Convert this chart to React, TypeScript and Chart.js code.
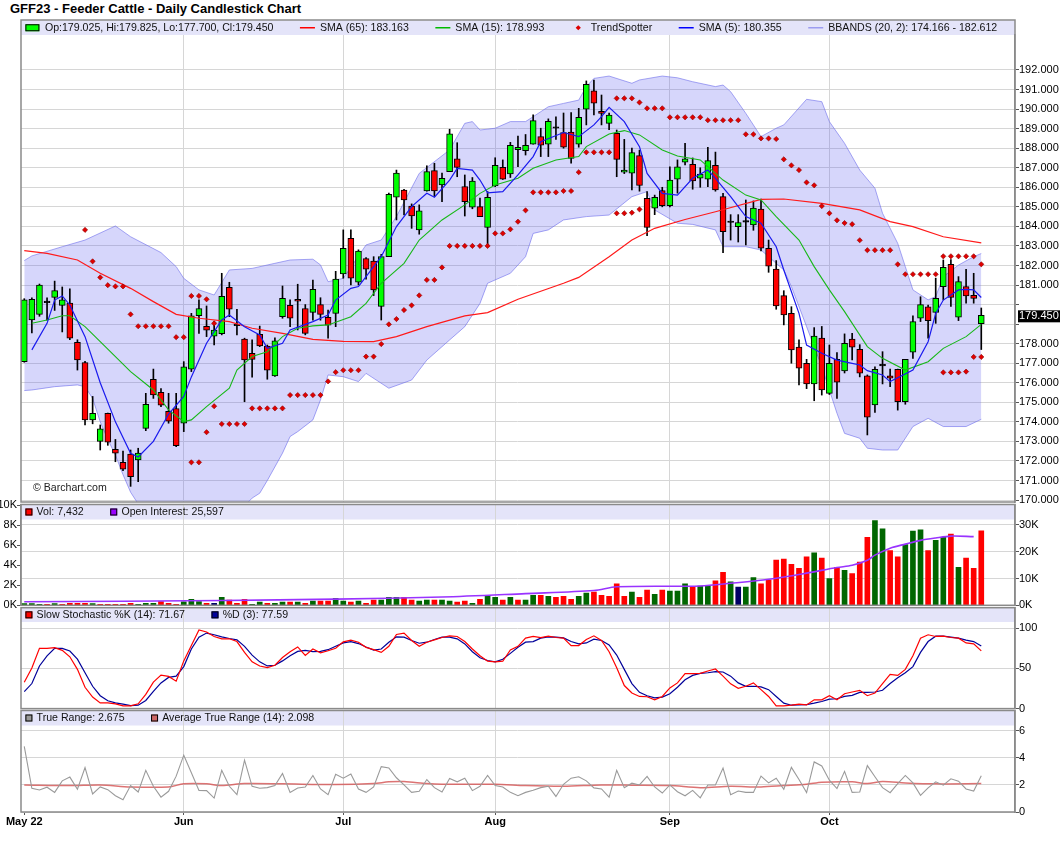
import React, { useEffect, useRef } from "react";
import Chart from "chart.js/auto";

const FONT = '"Liberation Sans", Arial, Helvetica, sans-serif';
const GRID = "#d6d6d6";
const FRAME = "#8a8a8a";
const BAND = "#e4e4f9";
const UP = "#00ff00";
const DOWN = "#ff0000";

// x = trading-day index, 0 = first session of May 2022
const monthTicks = [0, 21, 42, 62, 85, 106];
const monthLabels = ["May 22", "Jun", "Jul", "Aug", "Sep", "Oct"];

const priceTicks = [170, 171, 172, 173, 174, 175, 176, 177, 178, 179, 180, 181, 182, 183, 184, 185, 186, 187, 188, 189, 190, 191, 192];
const hiddenPriceLabels = [179, 180];

const opens = [
  177.08, 179.21, 179.5, 180.1, 180.37, 179.96, 180.07, 178.07, 177.03, 174.1,
  173.0, 174.44, 172.6, 171.93, 172.35, 172.05, 173.67, 176.18, 175.51, 174.54,
  174.68, 173.93, 176.7, 179.43, 178.89, 178.38, 178.51, 180.88, 178.92, 178.24,
  177.5, 178.48, 177.88, 176.35, 179.38, 179.96, 180.27, 179.8, 179.6, 180.0,
  179.35, 179.55, 181.57, 183.39, 181.14, 182.35, 182.22, 179.9, 182.45, 185.49,
  185.86, 185.04, 183.82, 185.81, 186.85, 186.12, 186.8, 187.45, 186.04, 184.98,
  185.01, 183.95, 186.07, 187.02, 186.68, 187.92, 187.87, 188.2, 188.59, 188.2,
  189.02, 188.8, 188.82, 188.2, 189.99, 190.94, 189.89, 189.27, 188.76, 186.77,
  186.72, 187.62, 185.44, 184.93, 185.83, 185.06, 186.42, 187.28, 187.18, 186.46,
  186.42, 187.12, 185.52, 184.2, 183.98, 184.22, 184.07, 184.88, 182.88, 181.81,
  180.46, 179.55, 177.82, 177.0, 175.94, 178.28, 175.46, 177.2, 176.6, 178.23,
  177.71, 176.35, 174.87, 176.86, 176.35, 176.69, 175.03, 177.56, 179.3, 179.89,
  179.6, 180.92, 182.06, 179.35, 180.92, 180.47, 179.025,
];
const highs = [
  180.3, 180.35, 181.05, 180.35, 181.2, 180.9, 180.8, 178.2, 177.1, 175.3,
  173.84, 174.45, 173.1, 172.5, 172.56, 172.65, 175.46, 176.7, 175.7, 175.46,
  175.46, 177.08, 179.55, 180.24, 179.93, 179.13, 181.6, 181.14, 179.76, 178.28,
  178.2, 178.9, 177.93, 178.3, 180.95, 180.24, 181.04, 180.0, 181.25, 180.35,
  179.72, 181.7, 183.82, 183.82, 182.8, 182.4, 182.45, 182.57, 185.7, 186.88,
  185.9, 185.15, 185.1, 187.1, 187.23, 186.72, 188.97, 188.28, 186.63, 186.5,
  185.45, 185.78, 187.51, 187.4, 188.3, 188.62, 188.7, 189.7, 189.02, 189.5,
  189.61, 189.8, 189.82, 190.04, 191.44, 191.49, 190.72, 189.8, 188.93, 188.45,
  188.0, 187.9, 185.78, 185.6, 186.0, 187.05, 187.4, 188.25, 187.5, 187.0,
  188.05, 187.8, 185.69, 184.6, 184.6, 185.35, 185.3, 185.4, 183.3, 182.25,
  180.71, 179.89, 178.19, 177.2, 178.82, 178.88, 177.93, 177.54, 178.5, 178.53,
  177.95, 176.4, 176.82, 177.59, 176.7, 176.7, 177.2, 179.42, 180.4, 179.98,
  181.35, 182.28, 182.3, 181.43, 181.8, 181.6, 179.825,
];
const lows = [
  177.05, 178.55, 179.4, 179.2, 179.7, 178.6, 178.2, 176.65, 173.84, 173.9,
  172.56, 172.8, 171.96, 171.5, 170.7, 170.94, 173.55, 175.2, 174.78, 173.93,
  172.73, 173.5, 176.57, 178.53, 178.36, 177.93, 178.45, 179.38, 178.45, 175.03,
  176.28, 177.85, 176.18, 176.33, 179.3, 178.87, 178.7, 178.45, 179.2, 179.2,
  178.28, 178.87, 181.35, 181.0, 181.0, 181.3, 180.46, 179.21, 182.45, 184.33,
  184.58, 183.9, 183.6, 185.8, 185.53, 185.27, 186.8, 186.54, 184.53, 184.9,
  184.5, 183.05, 186.03, 186.4, 186.5, 187.05, 187.65, 188.2, 187.57, 187.57,
  188.45, 188.0, 187.23, 188.05, 189.19, 189.7, 189.19, 188.95, 186.54, 186.7,
  185.86, 185.8, 183.52, 184.6, 185.0, 185.0, 185.7, 187.14, 185.9, 186.0,
  186.03, 185.8, 182.65, 183.3, 183.2, 183.05, 183.8, 182.75, 181.65, 179.76,
  178.96, 177.0, 175.89, 175.7, 175.08, 175.37, 175.4, 175.2, 176.5, 177.17,
  176.3, 173.33, 174.48, 175.94, 175.8, 174.6, 174.9, 177.25, 179.13, 178.28,
  179.04, 180.24, 179.9, 179.18, 180.07, 180.07, 177.7,
];
const closes = [
  180.24, 180.27, 181.0, 180.1, 180.71, 180.24, 178.28, 177.17, 174.1, 174.44,
  173.64, 172.96, 172.4, 171.58, 171.2, 172.4, 174.9, 175.38, 174.85, 174.03,
  172.78, 176.82, 179.42, 179.8, 178.69, 178.69, 180.42, 179.76, 178.92, 177.17,
  177.2, 177.88, 176.65, 178.14, 180.32, 179.3, 180.17, 178.53, 180.78, 179.5,
  178.94, 181.3, 182.88, 181.35, 182.73, 181.81, 180.75, 182.45, 185.64, 186.72,
  185.35, 184.53, 184.8, 186.8, 185.81, 186.46, 188.73, 187.02, 185.27, 186.32,
  184.5, 185.49, 187.12, 186.41, 188.15, 188.05, 188.15, 189.41, 188.15, 189.38,
  189.02, 188.05, 187.47, 189.58, 191.27, 190.3, 189.78, 189.69, 187.43, 186.88,
  187.77, 186.09, 183.95, 185.49, 185.06, 186.37, 187.05, 187.45, 186.32, 186.67,
  187.36, 185.86, 183.73, 184.2, 184.2, 184.22, 184.93, 182.88, 181.97, 179.93,
  179.47, 177.68, 176.74, 175.94, 178.39, 175.63, 177.0, 176.03, 178.02, 177.82,
  176.49, 174.24, 176.69, 176.86, 176.23, 175.03, 177.2, 179.13, 180.0, 179.18,
  180.32, 181.91, 180.37, 181.17, 180.44, 180.32, 179.45,
];

// overlays: [day index, value]
const sma65: [number, number][] = [
  [0, 182.76], [3, 182.62], [7, 182.28], [10, 181.6], [14, 180.83], [17, 180.15], [20, 179.5], [23, 179.3],
  [27, 179.13], [30, 178.79], [34, 178.53], [38, 178.22], [42, 178.12], [46, 178.1], [49, 178.36], [53, 178.87],
  [58, 179.42], [61, 179.59], [65, 180.27], [71, 181.09], [73, 181.39], [77, 182.45], [80, 183.3], [83, 183.9],
  [87, 184.35], [91, 184.75], [97, 185.38], [100, 185.4], [105, 185.18], [110, 184.84], [114, 184.24],
  [117, 183.99], [121, 183.47], [126, 183.16],
];
const sma15: [number, number][] = [
  [1, 179.04], [3, 179.21], [5, 179.43], [6, 179.43], [8, 178.87], [10, 178.1], [12, 177.34], [14, 176.57],
  [17, 175.63], [19, 174.61], [21, 174.01], [22, 174.1], [24, 174.78], [27, 175.72], [28, 176.65], [30, 177.34],
  [32, 177.59], [34, 178.36], [36, 178.79], [38, 178.91], [40, 178.96], [43, 179.38], [45, 180.06], [47, 181.09],
  [50, 182.11], [52, 183.3], [55, 184.33], [58, 185.1], [60, 185.69], [62, 186.12], [65, 186.46], [67, 186.97],
  [70, 187.4], [73, 187.57], [74, 188.08], [77, 188.73], [79, 188.9], [81, 188.68], [84, 187.91], [86, 187.6],
  [89, 187.4], [92, 186.37], [95, 185.6], [97, 185.35], [99, 184.5], [102, 183.3], [104, 181.94], [106, 180.75],
  [108, 179.64], [111, 177.85], [113, 177.25], [116, 176.65], [119, 177.08], [121, 177.76], [124, 178.36],
  [126, 178.99],
];
const sma5: [number, number][] = [
  [1, 177.68], [3, 179.04], [4, 180.23], [5, 180.44], [6, 179.98], [8, 178.36], [10, 176.0], [12, 174.0],
  [14, 172.39], [15, 172.2], [17, 173.0], [19, 174.4], [21, 175.3], [22, 176.3], [24, 178.02], [26, 179.21],
  [27, 179.47], [29, 178.87], [31, 178.44], [32, 177.76], [34, 178.02], [35, 178.7], [38, 179.13], [40, 179.47],
  [41, 180.23], [43, 180.83], [44, 180.92], [45, 181.43], [47, 182.45], [49, 183.99], [51, 185.01], [53, 185.69],
  [54, 185.49], [56, 186.37], [57, 186.97], [59, 186.88], [60, 186.37], [61, 185.72], [63, 185.78], [65, 186.63],
  [67, 187.57], [68, 188.33], [71, 188.8], [73, 188.59], [75, 189.19], [76, 189.61], [77, 190.09], [79, 189.36],
  [81, 188.08], [82, 186.71], [84, 185.69], [86, 185.6], [88, 186.46], [90, 186.88], [91, 186.46], [93, 185.52],
  [95, 184.5], [97, 184.16], [99, 182.96], [100, 181.77], [102, 179.55], [103, 177.93], [105, 177.51],
  [107, 177.16], [109, 176.99], [110, 176.91], [111, 176.62], [113, 176.4], [114, 176.06], [117, 176.65],
  [119, 178.1], [120, 179.55], [121, 180.23], [123, 180.75], [124, 180.78], [125, 180.75], [126, 180.36],
];
const bbUpper: [number, number][] = [
  [0, 182.25], [1, 182.49], [5, 182.96], [8, 183.3], [12, 184.02], [14, 183.47], [18, 182.66], [20, 181.94],
  [21, 181.34], [23, 180.75], [25, 180.49], [27, 181.77], [30, 181.85], [33, 182.11], [35, 182.28], [38, 182.32],
  [39, 182.03], [40, 181.17], [42, 181.34], [45, 183.05], [47, 183.3], [49, 184.5], [52, 186.71], [56, 187.91],
  [58, 189.27], [59, 189.36], [60, 188.93], [62, 189.02], [64, 189.36], [66, 189.36], [67, 189.61], [69, 190.12],
  [71, 190.29], [73, 190.46], [74, 191.15], [75, 191.57], [77, 191.69], [80, 191.32], [81, 191.49], [84, 191.69],
  [86, 191.6], [88, 191.4], [91, 191.15], [92, 191.23], [93, 190.89], [95, 189.78], [97, 188.59], [99, 189.02],
  [100, 189.19], [103, 190.5], [105, 190.38], [106, 189.36], [108, 188.25], [110, 186.88], [112, 185.95],
  [113, 184.67], [115, 183.13], [116, 181.94], [117, 180.75], [119, 180.24], [120, 180.41], [121, 181.43],
  [123, 182.02], [125, 182.45], [126, 182.61],
];
const bbLower: [number, number][] = [
  [0, 175.6], [1, 175.63], [4, 175.8], [7, 175.89], [8, 175.8], [9, 175.2], [10, 174.0], [11, 173.1],
  [12, 172.3], [13, 171.3], [14, 170.4], [15, 169.8], [17, 169.1], [20, 168.6], [23, 168.6], [26, 168.9],
  [28, 169.3], [29, 169.7], [30, 170.1], [31, 170.35], [32, 171.0], [34, 172.4], [35, 173.25], [36, 173.5],
  [38, 174.1], [39, 175.12], [40, 176.4], [42, 176.31], [44, 176.06], [45, 176.48], [48, 175.72], [51, 176.14],
  [53, 177.16], [56, 178.19], [58, 178.87], [60, 180.06], [61, 181.09], [64, 181.6], [66, 182.45], [67, 183.64],
  [69, 183.82], [71, 184.33], [74, 184.5], [77, 184.58], [80, 185.52], [82, 185.78], [83, 184.84], [86, 184.16],
  [88, 184.1], [91, 183.82], [92, 182.96], [95, 182.96], [97, 182.79], [100, 181.77], [101, 180.92],
  [103, 178.87], [105, 176.82], [107, 174.44], [108, 173.41], [110, 173.16], [111, 172.65], [113, 172.56],
  [115, 172.56], [117, 173.76], [119, 174.18], [121, 173.76], [124, 173.76], [126, 174.13],
];
const trendSpotter: [number, number][] = [
  [8, 183.82], [9, 182.21], [10, 181.39], [11, 180.99], [12, 180.93], [13, 180.93], [14, 179.5], [15, 178.89],
  [16, 178.89], [17, 178.89], [18, 178.89], [19, 178.89], [20, 178.33], [21, 178.33], [22, 180.44], [23, 180.44],
  [24, 180.27], [25, 179.04],
  [22, 171.93], [23, 171.93], [24, 173.47], [25, 174.8], [26, 173.89], [27, 173.89], [28, 173.89], [29, 173.89],
  [30, 174.69], [31, 174.69], [32, 174.69], [33, 174.69], [34, 174.69], [35, 175.37], [36, 175.37], [37, 175.37],
  [38, 175.37], [39, 175.37], [40, 176.07], [41, 176.54], [42, 176.64], [43, 176.64], [44, 176.64], [45, 177.34],
  [46, 177.34], [47, 177.98], [48, 178.99], [49, 179.26], [50, 179.72], [51, 179.96], [52, 180.47], [53, 181.26],
  [54, 181.26], [55, 181.9], [56, 183.0], [57, 183.0], [58, 183.0], [59, 183.0], [60, 183.0], [61, 183.0],
  [62, 183.64], [63, 183.64], [64, 183.85], [65, 184.24], [66, 184.82], [67, 185.74], [68, 185.74], [69, 185.74],
  [70, 185.74], [71, 185.81], [72, 185.81], [73, 186.77], [74, 187.79], [75, 187.79], [76, 187.79], [77, 187.79],
  [78, 184.67], [79, 184.67], [80, 184.7], [81, 184.87],
  [78, 190.55], [79, 190.55], [80, 190.55], [81, 190.34], [82, 190.04], [83, 190.04], [84, 190.04], [85, 189.58],
  [86, 189.58], [87, 189.58], [88, 189.58], [89, 189.58], [90, 189.43], [91, 189.43], [92, 189.43], [93, 189.43],
  [94, 189.43], [95, 188.71], [96, 188.71], [97, 188.5], [98, 188.5], [99, 188.47], [100, 187.43], [101, 187.12],
  [102, 186.88], [103, 186.25], [104, 186.1], [105, 185.04], [106, 184.67], [107, 184.31], [108, 184.17],
  [109, 184.11], [110, 183.29], [111, 182.78], [112, 182.78], [113, 182.78], [114, 182.78], [115, 182.06],
  [116, 181.55], [117, 181.55], [118, 181.55], [119, 181.55], [120, 181.55], [121, 182.47], [122, 182.47],
  [123, 182.47], [124, 182.47], [125, 182.47], [126, 182.06],
  [121, 176.53], [122, 176.53], [123, 176.53], [124, 176.57], [125, 177.32], [126, 177.32],
];

const volumes = [
  170, 170, 100, 100, 170, 100, 200, 200, 200, 170,
  100, 100, 100, 100, 200, 100, 200, 200, 380, 200,
  100, 340, 590, 380, 200, 200, 800, 520, 200, 590,
  100, 310, 200, 200, 310, 310, 310, 200, 410, 410,
  410, 690, 410, 310, 410, 200, 520, 520, 790, 790,
  790, 520, 410, 520, 520, 520, 410, 310, 410, 200,
  590, 1000, 790, 520, 790, 520, 520, 1000, 1000, 900,
  800, 900, 590, 900, 1210, 1310, 1000, 900, 2140, 900,
  1310, 800, 1520, 1100, 1520, 1410, 1410, 2140, 1830, 1930,
  1930, 2450, 3280, 2340, 1830, 1830, 2760, 2140, 2550, 4520,
  4620, 4100, 3690, 4830, 5240, 4720, 2660, 3790, 3480, 3170,
  4310, 6790, 8450, 7620, 5450, 4830, 6070, 7410, 7520, 5450,
  6480, 6790, 7100, 3790, 4720, 3690, 7432,
];
const openInterest: [number, number][] = [
  [0, 1300], [26, 1800], [41, 2300], [55, 3080], [66, 4360], [75, 5500], [78, 6900], [89, 7200], [93, 8200],
  [98, 9700], [103, 12000], [107, 14100], [109, 14900], [111, 16800], [112, 18700], [114, 21300], [116, 22800],
  [118, 24200], [120, 25100], [122, 25800], [125, 25600],
];
const volLeftTicks = [0, 2000, 4000, 6000, 8000, 10000];
const volLeftLabels = ["0K", "2K", "4K", "6K", "8K", "10K"];
const oiTicks = [0, 10000, 20000, 30000];
const oiLabels = ["0K", "10K", "20K", "30K"];

const stochK = [
  32.8, 50.4, 74.8, 74.8, 75.6, 72.3, 64.3, 48.7, 26.5, 14.3,
  7.1, 7.1, 5.9, 3.4, 3.4, 5.9, 17.6, 32.8, 41.6, 39.9,
  34, 59.2, 78.2, 97.5, 95, 89.5, 86.6, 86.6, 83.2, 69.7,
  58, 52.9, 50.8, 53.8, 63.4, 70.6, 76.5, 66, 73.9, 69.3,
  71.8, 74.8, 82.8, 84.9, 82.4, 76, 73.1, 69.7, 77.3, 92,
  93.7, 84.5, 77.3, 82.4, 85.3, 88.2, 90.3, 89.5, 83.2, 73.9,
  65.5, 58.8, 58, 58.8, 72.7, 77.3, 87.4, 89.5, 88.2, 89.9,
  88.2, 87.4, 78.2, 78.2, 85.7, 90.3, 84.5, 70.6, 50.8, 28.6,
  19.3, 15.1, 14.7, 10.9, 15.1, 25.6, 31.9, 43.3, 43.3, 43.7,
  46.6, 49.2, 40.3, 30.7, 25.2, 27.7, 31.9, 23.5, 15.1, 3.4,
  3.4, 4.2, 5.5, 4.6, 10.9, 10.9, 16, 10.9, 18.5, 20.6,
  22.7, 16, 19.3, 31.1, 42.4, 41.2, 48.7, 65.5, 87.4, 91.6,
  89.5, 89.9, 88.2, 87.4, 81.5, 80.3, 71.67,
];
const stochD = [
  21, 31.1, 52.9, 65.5, 74.8, 74.8, 71.4, 61.3, 44.5, 27.7,
  16, 9.7, 7.1, 5.5, 3.8, 4.2, 10.1, 21.4, 31.9, 38.7,
  40.3, 52.1, 73.9, 88.7, 93.7, 91.6, 89.1, 87, 85.3, 77.3,
  66.4, 58, 52.9, 53.8, 59.2, 65.5, 71, 72.3, 70.6, 71,
  73.1, 77.3, 81.5, 83.2, 80.7, 76.5, 72.7, 73.9, 82.4, 89.1,
  88.7, 84.5, 81.1, 82.4, 85.7, 88.7, 88.7, 86.6, 80.3, 70.6,
  63, 59.7, 58, 61.3, 68.5, 76, 82.4, 83.2, 87.4, 89.1,
  88.7, 87.8, 83.2, 80.3, 81.5, 86.1, 84.5, 79, 66.4, 48.7,
  31.1, 20.2, 16, 13.4, 14.3, 18.5, 26.5, 35.7, 41.2, 43.7,
  44.5, 45.8, 45.4, 40.3, 31.9, 27.7, 27.7, 26.9, 23.5, 15.1,
  6.7, 4.2, 4.6, 5, 6.7, 8.8, 11.8, 12.2, 15.1, 16.4,
  20.2, 20.2, 20.6, 22.7, 31.1, 38.2, 44.5, 52.1, 69.7, 83.2,
  89.9, 89.9, 88.7, 87.4, 84.9, 83.2, 77.59,
];
const stochTicks = [0, 50, 100];
const stochLabels = ["0", "50", "100"];

const trueRange = [
  4.85, 1.75, 1.63, 1.83, 1.45, 2.3, 2.58, 1.68, 3.28, 1.33,
  1.85, 1.65, 1.2, 0.9, 1.95, 1.48, 3.08, 1.9, 1.1, 1.53,
  2.65, 4.2, 2.9, 1.6, 1.58, 1.03, 3.08, 1.9, 1.28, 3.83,
  1.9, 1.75, 1.8, 1.95, 2.85, 1.45, 1.78, 1.85, 2.7, 1.7,
  1.28, 2.78, 2.5, 2.8, 1.7, 1.45, 1.85, 3.35, 3.25, 2.53,
  2.0, 1.45, 1.53, 2.4, 1.8, 1.48, 2.48, 2.23, 2.5, 1.58,
  1.9, 2.7, 1.95, 1.85, 1.45, 1.2, 1.45, 1.6, 1.8, 1.9,
  1.15, 2.05, 2.5, 2.6, 2.3, 1.78, 1.7, 1.1, 3.08, 1.8,
  2.13, 2.0, 2.63, 1.85, 1.4, 2.0, 1.5, 1.2, 1.6, 1.05,
  2.0, 2.0, 3.25, 1.28, 1.55, 1.45, 1.45, 2.65, 2.15, 2.5,
  1.68, 3.3, 2.4, 1.43, 3.7, 3.4, 2.35, 1.73, 3.0, 1.45,
  1.48, 3.43, 2.6, 1.8, 1.43, 2.1, 2.7, 2.15, 1.23, 1.78,
  2.23, 1.98, 2.45, 2.28, 1.7, 1.55, 2.675,
];
const avgTrueRange: [number, number][] = [
  [0, 2.0], [6, 1.95], [10, 2.0], [14, 1.85], [19, 1.85], [21, 2.08], [24, 2.08], [26, 1.95], [29, 2.1],
  [34, 2.08], [41, 2.03], [46, 2.1], [48, 2.23], [50, 2.25], [53, 2.1], [55, 2.05], [62, 2.05], [66, 1.95],
  [71, 1.9], [76, 2.0], [80, 1.98], [85, 1.95], [89, 1.8], [93, 1.9], [97, 1.85], [100, 1.95], [103, 2.05],
  [105, 2.2], [109, 2.23], [111, 2.1], [113, 2.25], [116, 2.15], [120, 2.08], [126, 2.098],
];
const trTicks = [0, 2, 4, 6];
const trLabels = ["0", "2", "4", "6"];

const last = closes.length - 1;
const legendValues = {
  sma65: "183.163",
  sma15: "178.993",
  sma5: "180.355",
  bb: "174.166 - 182.612",
  k: "71.67",
  d: "77.59",
  tr: "2.675",
  atr: "2.098",
  oi: "25,597",
};

// page layout (px)
const W = 1060;
const X_MIN = -0.43;
const X_MAX = 130.44;
const LEGEND_FONT = 10.6;
const ITEM_GAP = 26.5;
const MAIN = { top: 0, height: 514, areaTop: 35, areaBottom: 502, frameTop: 20, bandTop: 20.5, bandH: 14.5 };
const VOL = { top: 494, height: 124, areaTop: 504.5, areaBottom: 605.3, bandH: 15 };
const STO = { top: 598, height: 124, areaTop: 607.7, areaBottom: 708.6, bandH: 14.3 };
const TRP = { top: 700, height: 151, areaTop: 710.5, areaBottom: 812, bandH: 15 };

const pts = (arr: [number, number][]) => arr.map(([x, y]) => ({ x, y }));
const seq = (arr: number[]) => arr.map((y, x) => ({ x, y }));

const noPad = (s: any) => {
  s.paddingTop = 0;
  s.paddingBottom = 0;
  s.paddingLeft = 0;
  s.paddingRight = 0;
};

function xAxis(showLabels: boolean) {
  return {
    type: "linear",
    min: X_MIN,
    max: X_MAX,
    offset: false,
    afterBuildTicks: (s: any) => {
      s.ticks = monthTicks.map((v) => ({ value: v }));
    },
    afterFit: (s: any) => {
      s.height = showLabels ? 39 : 0;
      noPad(s);
    },
    grid: {
      offset: false,
      color: (c: any) => (c.tick && c.tick.value === monthTicks[0] ? "rgba(0,0,0,0)" : GRID),
      drawTicks: showLabels,
      tickLength: 3,
      tickColor: "#555",
    },
    border: { display: false },
    ticks: {
      display: showLabels,
      autoSkip: false,
      maxRotation: 0,
      padding: 0,
      color: "#000",
      font: { family: FONT, size: 11, weight: "bold" },
      callback: (v: any) => monthLabels[monthTicks.indexOf(Number(v))] ?? "",
    },
  };
}

function rightAxis(min: number, max: number, ticks: number[], label: (v: number) => string) {
  return {
    type: "linear",
    position: "right",
    min,
    max,
    afterBuildTicks: (s: any) => {
      s.ticks = ticks.map((v) => ({ value: v }));
    },
    afterFit: (s: any) => {
      s.width = 45;
      noPad(s);
    },
    grid: { color: GRID, tickColor: "#555", tickLength: 4, offset: false },
    border: { color: FRAME, width: 1.5 },
    ticks: {
      autoSkip: false,
      padding: 0,
      color: "#000",
      font: { family: FONT, size: 11 },
      callback: (v: any) => label(Number(v)),
    },
  };
}

type Item = { marker: "box" | "line" | "diamond" | "square"; color: string; text: string };

function drawLegend(ctx: CanvasRenderingContext2D, left: number, cy: number, items: Item[]) {
  let x = left + 4.4;
  ctx.font = `${LEGEND_FONT}px ${FONT}`;
  ctx.textBaseline = "middle";
  ctx.textAlign = "left";
  for (const it of items) {
    ctx.lineWidth = 1;
    if (it.marker === "box") {
      ctx.fillStyle = it.color;
      ctx.fillRect(x, cy - 3.5, 14, 7);
      ctx.strokeStyle = "#000";
      ctx.strokeRect(x + 0.5, cy - 3, 13, 6);
      x += 19.5;
    } else if (it.marker === "square") {
      ctx.fillStyle = it.color;
      ctx.fillRect(x, cy - 3.5, 7, 7);
      ctx.strokeStyle = "#000";
      ctx.strokeRect(x + 0.5, cy - 3, 6, 6);
      x += 11.2;
    } else if (it.marker === "line") {
      ctx.strokeStyle = it.color;
      ctx.lineWidth = 1.5;
      ctx.beginPath();
      ctx.moveTo(x, cy);
      ctx.lineTo(x + 15, cy);
      ctx.stroke();
      x += 20;
    } else {
      const c = x + 7.5;
      ctx.fillStyle = it.color;
      ctx.beginPath();
      ctx.moveTo(c - 2.6, cy);
      ctx.lineTo(c, cy - 2.6);
      ctx.lineTo(c + 2.6, cy);
      ctx.lineTo(c, cy + 2.6);
      ctx.closePath();
      ctx.fill();
      x += 20;
    }
    ctx.fillStyle = "#111";
    ctx.fillText(it.text, x, cy + 0.5);
    x += ctx.measureText(it.text).width + ITEM_GAP;
  }
}

// band + frame + legend for each panel
const panelPlugin = {
  id: "panel",
  beforeDraw(chart: any, _a: any, o: any) {
    const { ctx, chartArea } = chart;
    ctx.save();
    ctx.fillStyle = BAND;
    ctx.fillRect(chartArea.left, o.bandTop, chartArea.right - chartArea.left, o.bandH);
    ctx.restore();
  },
  afterDraw(chart: any, _a: any, o: any) {
    const { ctx, chartArea } = chart;
    ctx.save();
    ctx.strokeStyle = FRAME;
    ctx.lineWidth = 1.5;
    ctx.strokeRect(chartArea.left, o.frameTop, chartArea.right - chartArea.left, chartArea.bottom - o.frameTop);
    drawLegend(ctx, chartArea.left, o.bandTop + o.bandH / 2, o.items);
    ctx.restore();
  },
};

const priceBoxPlugin = {
  id: "priceBox",
  afterDraw(chart: any) {
    const { ctx, chartArea, scales } = chart;
    const y = scales.y.getPixelForValue(closes[last]);
    ctx.save();
    ctx.fillStyle = "#000";
    ctx.fillRect(chartArea.right + 3, y - 5, 42, 12);
    ctx.fillStyle = "#fff";
    ctx.font = `11px ${FONT}`;
    ctx.textBaseline = "middle";
    ctx.textAlign = "left";
    ctx.fillText(closes[last].toFixed(3), chartArea.right + 4, y + 1);
    ctx.fillStyle = "#222";
    ctx.font = `${LEGEND_FONT}px ${FONT}`;
    ctx.fillText("\u00a9 Barchart.com", chartArea.left + 12, chartArea.bottom - 13.5);
    ctx.restore();
  },
};

const candleColor = (i: number) =>
  closes[i] > opens[i] ? UP : closes[i] < opens[i] ? DOWN : "#000";
const volColor = (i: number) => {
  if (i === 0 || closes[i] > closes[i - 1]) return "#006600";
  if (closes[i] < closes[i - 1]) return "#ff0000";
  return "#000066";
};

const baseOptions = (p: { top: number; height: number; areaTop: number; areaBottom: number }, xHeight: number, leftPad: number) => ({
  animation: false,
  responsive: false,
  events: [],
  layout: {
    padding: {
      left: leftPad,
      right: 0,
      top: p.areaTop - p.top,
      bottom: p.top + p.height - p.areaBottom - xHeight,
    },
  },
});

export default function App() {
  const mainRef = useRef<HTMLCanvasElement | null>(null);
  const volRef = useRef<HTMLCanvasElement | null>(null);
  const stoRef = useRef<HTMLCanvasElement | null>(null);
  const trRef = useRef<HTMLCanvasElement | null>(null);

  useEffect(() => {
    Chart.defaults.font.family = FONT;
    const charts: Chart[] = [];

    if (mainRef.current) {
      charts.push(
        new Chart(mainRef.current, {
          type: "bar",
          data: {
            datasets: [
              {
                type: "line",
                data: pts(bbUpper),
                borderColor: "rgba(110,110,235,0.6)",
                borderWidth: 1,
                backgroundColor: "rgba(90,90,240,0.25)",
                fill: "+1",
                pointRadius: 0,
                tension: 0,
                order: 10,
              },
              {
                type: "line",
                data: pts(bbLower),
                borderColor: "rgba(110,110,235,0.6)",
                borderWidth: 1,
                fill: false,
                pointRadius: 0,
                tension: 0,
                order: 10,
              },
              {
                type: "bar",
                data: closes.map((_, i) => ({ x: i, y: [lows[i], highs[i]] })),
                backgroundColor: "#000",
                borderWidth: 0,
                barThickness: 1,
                grouped: false,
                order: 6,
              },
              {
                type: "bar",
                data: closes.map((c, i) => ({ x: i, y: [opens[i], c] })),
                backgroundColor: closes.map((_, i) => candleColor(i)),
                borderColor: "#000",
                borderWidth: 1,
                borderSkipped: false,
                barThickness: 6,
                minBarLength: 1.5,
                grouped: false,
                order: 5,
              },
              { type: "line", data: pts(sma65), borderColor: "#ff1a1a", borderWidth: 1.2, pointRadius: 0, tension: 0, order: 3 },
              { type: "line", data: pts(sma15), borderColor: "#18b818", borderWidth: 1.1, pointRadius: 0, tension: 0, order: 2 },
              { type: "line", data: pts(sma5), borderColor: "#1a1aee", borderWidth: 1.2, pointRadius: 0, tension: 0, order: 1 },
              {
                type: "line",
                data: pts(trendSpotter),
                showLine: false,
                pointStyle: "rectRot",
                pointRadius: 2.6,
                pointBackgroundColor: "#e00000",
                pointBorderColor: "#8a0000",
                pointBorderWidth: 0.6,
                order: 0,
              },
            ],
          },
          options: {
            ...baseOptions(MAIN, 0, 21),
            plugins: {
              legend: { display: false },
              tooltip: { enabled: false },
              panel: {
                bandTop: MAIN.bandTop - MAIN.top,
                bandH: MAIN.bandH,
                frameTop: MAIN.frameTop - MAIN.top,
                items: [
                  {
                    marker: "box",
                    color: UP,
                    text: `Op:${opens[last].toFixed(3)}, Hi:${highs[last].toFixed(3)}, Lo:${lows[last].toFixed(3)}, Cl:${closes[last].toFixed(3)}`,
                  },
                  { marker: "line", color: "#ff0000", text: `SMA (65): ${legendValues.sma65}` },
                  { marker: "line", color: "#00bb00", text: `SMA (15): ${legendValues.sma15}` },
                  { marker: "diamond", color: "#dd0000", text: "TrendSpotter" },
                  { marker: "line", color: "#0000ff", text: `SMA (5): ${legendValues.sma5}` },
                  { marker: "line", color: "#9c9cf0", text: `BBANDS (20, 2): ${legendValues.bb}` },
                ],
              },
            },
            scales: {
              x: xAxis(false),
              y: rightAxis(169.9, 193.79, priceTicks, (v) => (hiddenPriceLabels.includes(v) ? "" : v.toFixed(3))),
            },
          },
          plugins: [panelPlugin, priceBoxPlugin],
        } as any)
      );
    }

    if (volRef.current) {
      charts.push(
        new Chart(volRef.current, {
          type: "bar",
          data: {
            datasets: [
              {
                type: "line",
                data: pts(openInterest),
                yAxisID: "yR",
                borderColor: "#9933ff",
                borderWidth: 1.6,
                pointRadius: 0,
                tension: 0.3,
                order: 0,
              },
              {
                type: "bar",
                data: volumes.map((v, i) => ({ x: i, y: v })),
                yAxisID: "yL",
                backgroundColor: volumes.map((_, i) => volColor(i)),
                borderWidth: 0,
                barThickness: 5,
                grouped: false,
                order: 1,
              },
            ],
          },
          options: {
            ...baseOptions(VOL, 0, 0),
            plugins: {
              legend: { display: false },
              tooltip: { enabled: false },
              panel: {
                bandTop: VOL.areaTop - VOL.top,
                bandH: VOL.bandH,
                frameTop: VOL.areaTop - VOL.top,
                items: [
                  { marker: "square", color: "#ff0000", text: `Vol: ${volumes[last].toLocaleString("en-US")}` },
                  { marker: "square", color: "#9900ff", text: `Open Interest: ${legendValues.oi}` },
                ],
              },
            },
            scales: {
              x: xAxis(false),
              yL: {
                type: "linear",
                position: "left",
                min: 0,
                max: 10060,
                afterBuildTicks: (s: any) => {
                  s.ticks = volLeftTicks.map((v) => ({ value: v }));
                },
                afterFit: (s: any) => {
                  s.width = 21;
                  noPad(s);
                },
                grid: { drawOnChartArea: false, tickColor: "#555", tickLength: 4 },
                border: { color: FRAME, width: 1.5 },
                ticks: {
                  autoSkip: false,
                  padding: 0,
                  color: "#000",
                  font: { family: FONT, size: 11 },
                  callback: (v: any) => volLeftLabels[volLeftTicks.indexOf(Number(v))] ?? "",
                },
              },
              yR: rightAxis(0, 37570, oiTicks, (v) => oiLabels[oiTicks.indexOf(v)] ?? ""),
            },
          },
          plugins: [panelPlugin],
        } as any)
      );
    }

    if (stoRef.current) {
      charts.push(
        new Chart(stoRef.current, {
          type: "line",
          data: {
            datasets: [
              { data: seq(stochK), borderColor: "#ff0000", borderWidth: 1.2, pointRadius: 0, tension: 0, order: 0 },
              { data: seq(stochD), borderColor: "#000099", borderWidth: 1.2, pointRadius: 0, tension: 0, order: 1 },
            ],
          },
          options: {
            ...baseOptions(STO, 0, 21),
            plugins: {
              legend: { display: false },
              tooltip: { enabled: false },
              panel: {
                bandTop: STO.areaTop - STO.top,
                bandH: STO.bandH,
                frameTop: STO.areaTop - STO.top,
                items: [
                  { marker: "square", color: "#ff0000", text: `Slow Stochastic %K (14): ${legendValues.k}` },
                  { marker: "square", color: "#000099", text: `%D (3): ${legendValues.d}` },
                ],
              },
            },
            scales: {
              x: xAxis(false),
              y: rightAxis(0, 125.2, stochTicks, (v) => stochLabels[stochTicks.indexOf(v)] ?? ""),
            },
          },
          plugins: [panelPlugin],
        } as any)
      );
    }

    if (trRef.current) {
      charts.push(
        new Chart(trRef.current, {
          type: "line",
          data: {
            datasets: [
              { data: seq(trueRange), borderColor: "#9a9a9a", borderWidth: 1.1, pointRadius: 0, tension: 0, order: 0 },
              { data: pts(avgTrueRange), borderColor: "rgba(214,90,90,0.85)", borderWidth: 1.5, pointRadius: 0, tension: 0.3, order: 1 },
            ],
          },
          options: {
            ...baseOptions(TRP, 39, 21),
            plugins: {
              legend: { display: false },
              tooltip: { enabled: false },
              panel: {
                bandTop: TRP.areaTop - TRP.top,
                bandH: TRP.bandH,
                frameTop: TRP.areaTop - TRP.top,
                items: [
                  { marker: "square", color: "#999999", text: `True Range: ${legendValues.tr}` },
                  { marker: "square", color: "#cc6666", text: `Average True Range (14): ${legendValues.atr}` },
                ],
              },
            },
            scales: {
              x: xAxis(true),
              y: rightAxis(0, 7.5, trTicks, (v) => trLabels[trTicks.indexOf(v)] ?? ""),
            },
          },
          plugins: [panelPlugin],
        } as any)
      );
    }

    return () => charts.forEach((c) => c.destroy());
  }, []);

  const canvasStyle = (top: number): React.CSSProperties => ({ position: "absolute", left: 0, top });

  return (
    <div style={{ position: "absolute", left: 0, top: 0, width: W, height: 851, background: "#fff", overflow: "hidden" }}>
      <div
        style={{
          position: "absolute",
          left: 10,
          top: 1,
          font: `bold 13px ${FONT}`,
          lineHeight: "15px",
          color: "#000",
          whiteSpace: "nowrap",
        }}
      >
        GFF23 - Feeder Cattle - Daily Candlestick Chart
      </div>
      <canvas ref={mainRef} width={W} height={MAIN.height} style={canvasStyle(MAIN.top)} />
      <canvas ref={volRef} width={W} height={VOL.height} style={canvasStyle(VOL.top)} />
      <canvas ref={stoRef} width={W} height={STO.height} style={canvasStyle(STO.top)} />
      <canvas ref={trRef} width={W} height={TRP.height} style={canvasStyle(TRP.top)} />
    </div>
  );
}
